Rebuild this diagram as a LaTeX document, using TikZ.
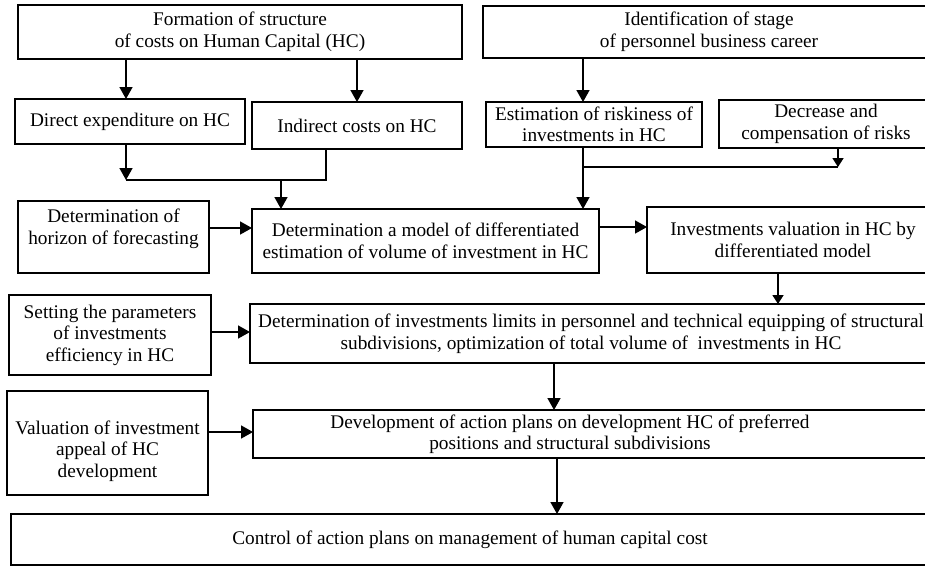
\documentclass[tikz,border=0pt]{standalone}
\usepackage{fontspec}
\setmainfont{Liberation Serif}
\usetikzlibrary{arrows.meta}
\tikzset{
  box/.style={draw, line width=1.6pt, inner sep=0pt, outer sep=0pt},
  txt/.style={align=center, inner sep=0pt, font=\fontsize{19.3}{21.5}\selectfont},
  btx/.style={box, txt},
  arr/.style={line width=1.6pt, -{Triangle[length=12pt,width=13pt]}},
  sarr/.style={line width=1.6pt, -{Triangle[length=9pt,width=11pt]}},
  ln/.style={line width=1.6pt}
}
\begin{document}
\begin{tikzpicture}[x=1pt,y=-1pt]
\useasboundingbox (0,0) rectangle (925,566);
\clip (0,0) rectangle (925,566);
% boxes
\node[btx, minimum width=444pt, minimum height=54pt] (f) at (240,32) {Formation of structure\\of costs on Human Capital (HC)};
\node[btx, minimum width=452pt, minimum height=52pt] (id) at (709,32) {Identification of stage\\of personnel business career};
\node[btx, minimum width=230pt, minimum height=45pt] (de) at (130,121.5) {Direct expenditure on HC};
\node[btx, minimum width=210pt, minimum height=47pt] (ic) at (357,125.5) {Indirect costs on HC};
\node[btx, minimum width=216pt, minimum height=45pt] (es) at (594,124.5) {Estimation of riskiness of\\investments in HC};
\node[btx, minimum width=214pt, minimum height=48pt] (dc) at (826,124) {Decrease and\\compensation of risks};
\node[box, minimum width=191pt, minimum height=72pt] (hz) at (113.5,237) {};
\node[txt] (hzt) at (113.5,229) {Determination of\\horizon of forecasting};
\node[btx, minimum width=347pt, minimum height=64pt] (md) at (425.5,241) {Determination a model of differentiated\\estimation of volume of investment in HC};
\node[btx, minimum width=292pt, minimum height=66pt] (iv) at (793,240) {Investments valuation in HC by\\differentiated model};
\node[btx, minimum width=202pt, minimum height=80pt] (st) at (110,335) {Setting the parameters\\of investments\\efficiency in HC};
\node[btx, minimum width=682pt, minimum height=59pt] (lm) at (591,333.5) {Determination of investments limits in personnel and technical equipping of structural\\subdivisions, optimization of total volume of~ investments in HC};
\node[box, minimum width=201pt, minimum height=104pt] (va) at (107.5,443) {};
\node[txt] (vat) at (107.5,451) {Valuation of investment\\appeal of HC\\development};
\node[box, minimum width=682pt, minimum height=48pt] (dv) at (594,434) {};
\node[txt] (dvt) at (570,434) {Development of action plans on development HC of preferred\\positions and structural subdivisions};
\node[btx, minimum width=918pt, minimum height=51pt] (ct) at (470,539.5) {Control of action plans on management of human capital cost};
% junctions
\coordinate (j1) at (126,180);
\coordinate (j2) at (326,180);
\coordinate (j3) at (281,180);
\coordinate (k1) at (838,167);
\coordinate (k2) at (583,167);
% connectors
\draw[arr] ([xshift=-4pt]de.north |- f.south) -- ([xshift=-4pt]de.north);
\draw[arr] (ic.north |- f.south) -- (ic.north);
\draw[arr] (id.south -| k2) -- (es.north -| k2);
\draw[arr] (de.south -| j1) -- (j1);
\draw[ln] (ic.south -| j2) -- (j2) -- (j1);
\draw[arr] (j3) -- (md.north -| j3);
\draw[sarr] (dc.south -| k1) -- (k1);
\draw[ln] (k2) -- (k1);
\draw[arr] (es.south -| k2) -- (md.north -| k2);
\draw[arr] ([yshift=9pt]hz.east) -- ([yshift=9pt]hz.east -| md.west);
\draw[arr] ([yshift=14pt]md.east) -- ([yshift=14pt]md.east -| iv.west);
\draw[sarr] (iv.south -| 778,0) -- (lm.north -| 778,0);
\draw[arr] ([yshift=3pt]st.east) -- ([yshift=3pt]st.east -| lm.west);
\draw[arr] ([yshift=11pt]va.east) -- ([yshift=11pt]va.east -| dv.west);
\draw[arr] (lm.south -| 554,0) -- (dv.north -| 554,0);
\draw[arr] (dv.south -| 557,0) -- (ct.north -| 557,0);
\end{tikzpicture}
\end{document}
